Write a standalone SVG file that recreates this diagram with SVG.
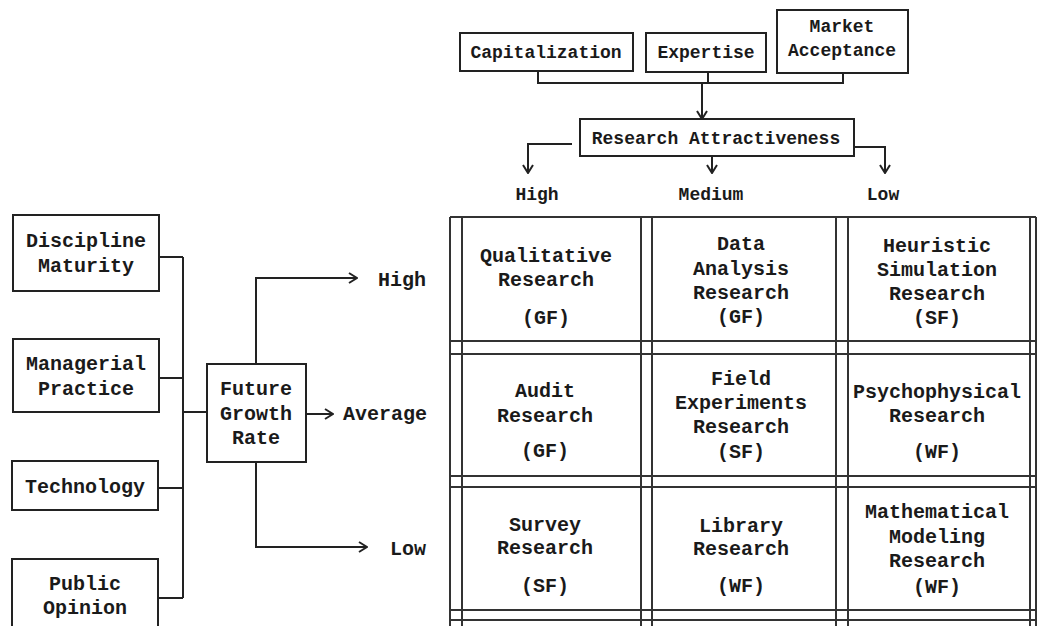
<svg xmlns="http://www.w3.org/2000/svg" width="1037" height="626" viewBox="0 0 1037 626">
<style>
.box{fill:#fff;stroke:#222;stroke-width:2}
.ln{fill:none;stroke:#222;stroke-width:2}
.g{fill:none;stroke:#333;stroke-width:2}
text{font-family:"Liberation Mono","Courier New",monospace;fill:#1a1a1a;text-anchor:middle;font-weight:bold}
.t20{font-size:20px}
.t18{font-size:18px}
.st{text-anchor:start}
</style>
<defs>
<marker id="ah" viewBox="0 0 12 12" refX="11" refY="6" markerWidth="12" markerHeight="12" markerUnits="userSpaceOnUse" orient="auto">
<path d="M3,1 L11,6 L3,11" fill="none" stroke="#222" stroke-width="2"/>
</marker>
</defs>
<rect width="1037" height="626" fill="#fff"/>

<g id="connectors">
<path class="ln" d="M538,71 V83 H843 V73 M708,72 V83"/>
<path class="ln" d="M702,83 V119" marker-end="url(#ah)"/>
<path class="ln" d="M572,144 H528 V173" marker-end="url(#ah)"/>
<path class="ln" d="M712,156 V173" marker-end="url(#ah)"/>
<path class="ln" d="M854,147 H885 V173" marker-end="url(#ah)"/>
<path class="ln" d="M159,257 H183 M159,378 H183 M158,488 H183 M158,598 H183 M183,257 V598 M183,412 H207"/>
<path class="ln" d="M256,364 V278 H357" marker-end="url(#ah)"/>
<path class="ln" d="M306,414 H333" marker-end="url(#ah)"/>
<path class="ln" d="M256,462 V547 H367" marker-end="url(#ah)"/>
</g>

<g id="capitalization"><rect class="box" x="460" y="33" width="173" height="38"/><text class="t18" x="546" y="58">Capitalization</text></g>
<g id="expertise"><rect class="box" x="646" y="33" width="120" height="39"/><text class="t18" x="706" y="58">Expertise</text></g>
<g id="market-acceptance"><rect class="box" x="777" y="10" width="131" height="63"/><text class="t18" x="842" y="32">Market</text><text class="t18" x="842" y="56">Acceptance</text></g>
<g id="research-attractiveness"><rect class="box" x="580" y="119" width="274" height="37"/><text class="t18" x="716" y="144">Research Attractiveness</text></g>

<g id="attr-labels">
<text class="t18" x="537" y="200">High</text>
<text class="t18" x="711" y="200">Medium</text>
<text class="t18" x="883" y="200">Low</text>
</g>

<g id="discipline-maturity"><rect class="box" x="13" y="215" width="146" height="76"/><text class="t20" x="86" y="247">Discipline</text><text class="t20" x="86" y="272">Maturity</text></g>
<g id="managerial-practice"><rect class="box" x="13" y="339" width="146" height="73"/><text class="t20" x="86" y="370">Managerial</text><text class="t20" x="86" y="395">Practice</text></g>
<g id="technology"><rect class="box" x="12" y="461" width="146" height="49"/><text class="t20" x="85" y="493">Technology</text></g>
<g id="public-opinion"><rect class="box" x="12" y="559" width="146" height="80"/><text class="t20" x="85" y="590">Public</text><text class="t20" x="85" y="614">Opinion</text></g>

<g id="future-growth-rate"><rect class="box" x="207" y="364" width="99" height="98"/><text class="t20" x="256" y="395">Future</text><text class="t20" x="256" y="420">Growth</text><text class="t20" x="256" y="444">Rate</text></g>

<g id="growth-labels">
<text class="t20 st" x="378" y="286">High</text>
<text class="t20 st" x="343" y="420">Average</text>
<text class="t20 st" x="390" y="555">Low</text>
</g>

<g id="grid">
<path class="g" d="M450,217 V626 M462,217 V626 M641,217 V626 M652,217 V626 M836,217 V626 M848,217 V626 M1030,217 V626 M1036,217 V626"/>
<path class="g" d="M450,217 H1036 M450,341 H1036 M450,354 H1036 M450,476 H1036 M450,487 H1036 M450,610 H1036 M450,620 H1036"/>
</g>

<g id="cell-qualitative"><text class="t20" x="546" y="262">Qualitative</text><text class="t20" x="546" y="286">Research</text><text class="t20" x="546" y="324">(GF)</text></g>
<g id="cell-data-analysis"><text class="t20" x="741" y="250">Data</text><text class="t20" x="741" y="275">Analysis</text><text class="t20" x="741" y="299">Research</text><text class="t20" x="741" y="323">(GF)</text></g>
<g id="cell-heuristic"><text class="t20" x="937" y="252">Heuristic</text><text class="t20" x="937" y="276">Simulation</text><text class="t20" x="937" y="300">Research</text><text class="t20" x="937" y="324">(SF)</text></g>
<g id="cell-audit"><text class="t20" x="545" y="397">Audit</text><text class="t20" x="545" y="422">Research</text><text class="t20" x="545" y="457">(GF)</text></g>
<g id="cell-field"><text class="t20" x="741" y="385">Field</text><text class="t20" x="741" y="409">Experiments</text><text class="t20" x="741" y="433">Research</text><text class="t20" x="741" y="458">(SF)</text></g>
<g id="cell-psychophysical"><text class="t20" x="937" y="398">Psychophysical</text><text class="t20" x="937" y="422">Research</text><text class="t20" x="937" y="458">(WF)</text></g>
<g id="cell-survey"><text class="t20" x="545" y="531">Survey</text><text class="t20" x="545" y="554">Research</text><text class="t20" x="545" y="592">(SF)</text></g>
<g id="cell-library"><text class="t20" x="741" y="532">Library</text><text class="t20" x="741" y="555">Research</text><text class="t20" x="741" y="592">(WF)</text></g>
<g id="cell-mathematical"><text class="t20" x="937" y="518">Mathematical</text><text class="t20" x="937" y="543">Modeling</text><text class="t20" x="937" y="567">Research</text><text class="t20" x="937" y="593">(WF)</text></g>
</svg>
